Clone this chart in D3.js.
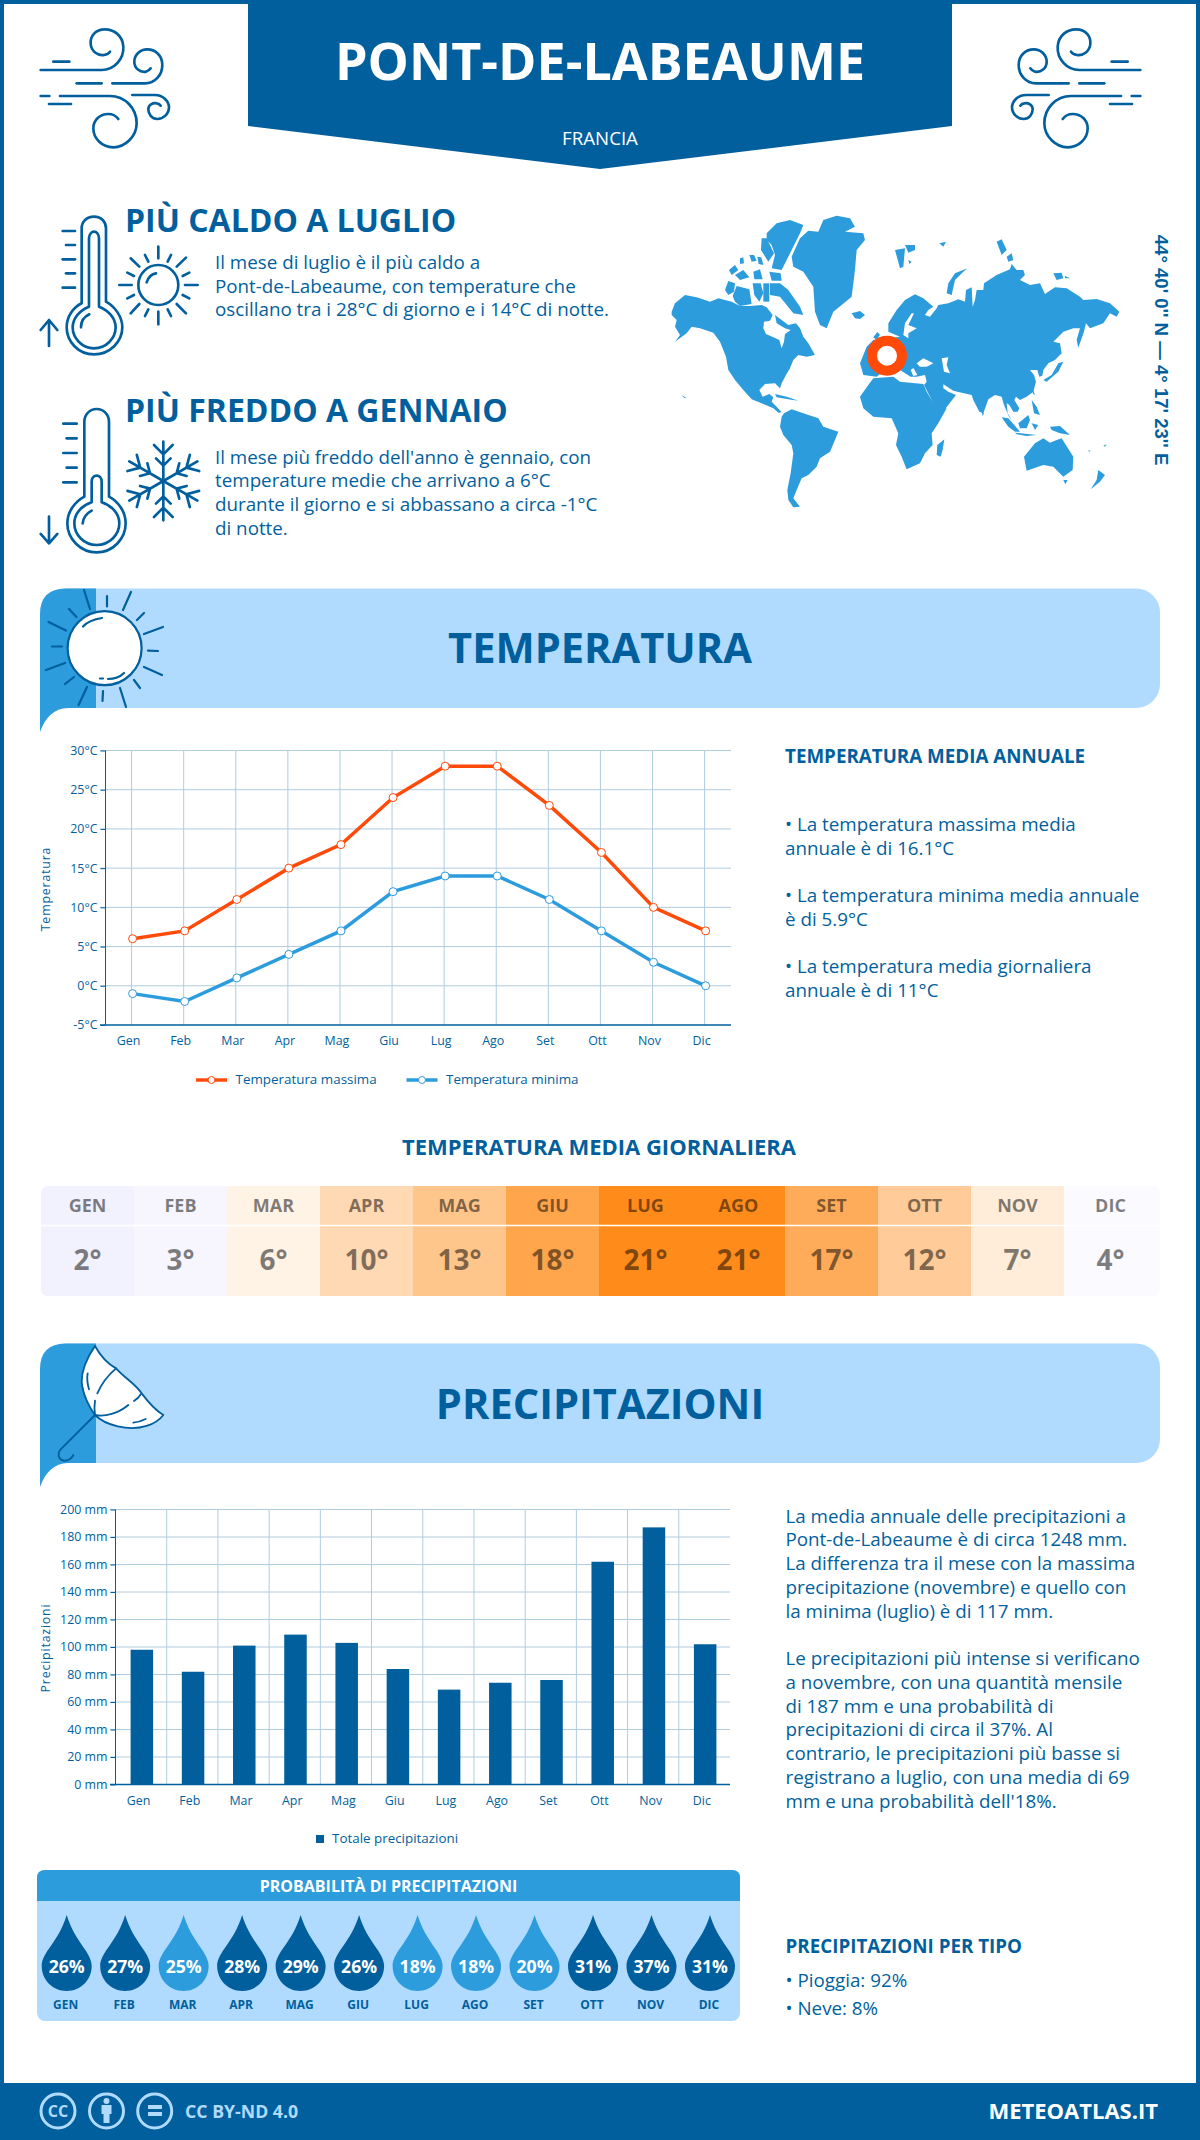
<!DOCTYPE html>
<html>
<head>
<meta charset="utf-8">
<script src="https://cdn.jsdelivr.net/npm/d3@7"></script>
<style>
  body { margin: 0; background: #fff; }
  svg { display: block; }
  text { font-family: "Open Sans", sans-serif; }
</style>
</head>
<body>
<div id="chart"></div>
<script>
// chart values
const months = ["Gen", "Feb", "Mar", "Apr", "Mag", "Giu", "Lug", "Ago", "Set", "Ott", "Nov", "Dic"];
const monthsUpper = ["GEN", "FEB", "MAR", "APR", "MAG", "GIU", "LUG", "AGO", "SET", "OTT", "NOV", "DIC"];
const tempMax = [6, 7, 11, 15, 18, 24, 28, 28, 23, 17, 10, 7];
const tempMin = [-1, -2, 1, 4, 7, 12, 14, 14, 11, 7, 3, 0];
const tempMean = [2, 3, 6, 10, 13, 18, 21, 21, 17, 12, 7, 4];
const rain = [98, 82, 101, 109, 103, 84, 69, 74, 76, 162, 187, 102];
const rainProb = [26, 27, 25, 28, 29, 26, 18, 18, 20, 31, 37, 31];
const tempTicks = [-5, 0, 5, 10, 15, 20, 25, 30];
const rainTicks = [0, 20, 40, 60, 80, 100, 120, 140, 160, 180, 200];

// texts
const hotLines = ["Il mese di luglio è il più caldo a", "Pont-de-Labeaume, con temperature che", "oscillano tra i 28°C di giorno e i 14°C di notte."];
const coldLines = ["Il mese più freddo dell'anno è gennaio, con", "temperature medie che arrivano a 6°C", "durante il giorno e si abbassano a circa -1°C", "di notte."];
const tempNotes = [
  ["• La temperatura massima media", "annuale è di 16.1°C"],
  ["• La temperatura minima media annuale", "è di 5.9°C"],
  ["• La temperatura media giornaliera", "annuale è di 11°C"]
];
const rainPara1 = ["La media annuale delle precipitazioni a", "Pont-de-Labeaume è di circa 1248 mm.", "La differenza tra il mese con la massima", "precipitazione (novembre) e quello con", "la minima (luglio) è di 117 mm."];
const rainPara2 = ["Le precipitazioni più intense si verificano", "a novembre, con una quantità mensile", "di 187 mm e una probabilità di", "precipitazioni di circa il 37%. Al", "contrario, le precipitazioni più basse si", "registrano a luglio, con una media di 69", "mm e una probabilità dell'18%."];

const navy = "#025f9d", mid = "#2d9cdd", pale = "#b0dbff", orange = "#ff4a0a", grid = "#afcce0";
const bodySize = 18.8, chartFont = 12.4, legendFont = 13.4;

const svg = d3.select("#chart").append("svg").attr("width", 1200).attr("height", 2140);

function txt(parent, x, y, s, size, o) {
  o = o || {};
  return parent.append("text").attr("x", x).attr("y", y)
    .attr("font-size", size)
    .attr("font-weight", o.w || 400)
    .attr("fill", o.fill || navy)
    .attr("text-anchor", o.a || "start")
    .attr("dy", ".35em")
    .text(s);
}
function linesAt(ys, lines, x, size) {
  lines.forEach((l, i) => txt(svg, x, ys[i], l, size));
}

// frame
svg.append("rect").attr("x", 2).attr("y", 2).attr("width", 1196).attr("height", 2136).attr("fill", "none").attr("stroke", navy).attr("stroke-width", 4);
svg.append("rect").attr("y", 2083).attr("width", 1200).attr("height", 57).attr("fill", navy);

// header
svg.append("path").attr("d", "M248,0H952V126L600,169L248,126Z").attr("fill", navy);
txt(svg, 600, 62, "PONT-DE-LABEAUME", 52, { w: 700, fill: "#fff", a: "middle" });
txt(svg, 600, 138, "FRANCIA", 18.7, { fill: "#fff", a: "middle" });

// wind icons, drawn in 3x units
const windPaths = [
  "M32,150H215C255,150 282,115 280,80C278,45 250,28 225,28C195,28 180,50 182,72C184,95 205,108 222,105C232,103 238,98 240,95",
  "M70,125H118", "M140,190H215",
  "M247,190H345C375,190 397,165 397,135C397,105 375,88 352,88C330,88 313,105 313,125C313,145 330,158 348,155C355,153 360,148 362,145",
  "M32,228H58",
  "M90,228H240C285,228 320,265 320,310C320,350 285,382 250,382C215,382 190,355 190,325C190,300 210,282 235,282C250,282 260,290 265,297",
  "M57,252H123",
  "M307,225H375C400,225 417,245 417,262C417,282 400,297 382,297C365,297 355,282 355,268C355,255 368,248 380,250C386,250 390,254 392,257"
];
function icon(transform, paths, sw) {
  const g = svg.append("g").attr("transform", transform).attr("fill", "none").attr("stroke", navy)
    .attr("stroke-width", sw || 8).attr("stroke-linecap", "round").attr("stroke-linejoin", "round");
  paths.forEach(d => g.append("path").attr("d", d));
  return g;
}
icon("translate(30,20) scale(.3333)", windPaths);
icon("translate(1151,20) scale(-.3333,.3333)", windPaths);

// hot block
icon("translate(30,200) scale(.3333)", [
  "M155,310V85C155,65 170,50 192,50C214,50 228,65 228,85V305C255,320 277,350 277,382C277,425 240,463 192,463C145,463 110,425 110,382C110,350 130,322 155,310Z",
  "M177,320V115C177,103 185,95 192,95C200,95 207,103 207,115V320C235,330 257,355 257,382C257,415 228,445 192,445C157,445 128,415 128,382C128,355 150,330 177,320Z",
  "M153,382C153,365 163,350 178,343",
  "M98,93H135", "M108,135H135", "M98,178H135", "M108,220H135", "M98,263H135",
  "M57,438V360M32,390L57,360L82,390",
  "M350,247C355,232 365,222 378,220",
  "M385,140V175", "M385,335V373", "M268,255H305", "M465,255H503",
  "M302,175L328,200", "M468,173L440,200", "M302,340L328,312", "M468,340L440,312",
  "M345,165L355,185", "M423,165L413,185", "M292,218L312,228", "M478,218L458,228",
  "M292,295L312,285", "M478,295L458,285", "M345,348L355,328", "M423,348L413,328"
]).append("circle").attr("cx", 385).attr("cy", 255).attr("r", 60);
txt(svg, 125, 221, "PIÙ CALDO A LUGLIO", 32, { w: 700 });
linesAt([262, 286, 309.5], hotLines, 215, bodySize);

// cold block
const snowArm = "M0,0V-118M-28,-108L0,-80L28,-108M-22,-68L0,-46L22,-68";
const cold = icon("translate(30,395) scale(.3333)", [
  "M163,305V80C163,58 180,42 200,42C220,42 237,58 237,80V305C265,320 287,350 287,385C287,432 248,472 200,472C152,472 112,432 112,385C112,350 135,320 163,305Z",
  "M185,322V260C185,248 192,242 200,242C208,242 215,248 215,260V322C245,332 268,355 268,385C268,420 238,450 200,450C162,450 133,420 133,385C133,355 155,332 185,322Z",
  "M158,385C160,368 170,355 185,347",
  "M100,86H140", "M110,130H140", "M100,174H140", "M110,218H140", "M100,262H140",
  "M57,365V445M32,417L57,445L82,417"
]);
d3.range(6).forEach(i => cold.append("path").attr("d", snowArm).attr("transform", `translate(400,258) rotate(${i * 60})`));
txt(svg, 125, 410.5, "PIÙ FREDDO A GENNAIO", 32, { w: 700 });
linesAt([457, 480.5, 504, 528], coldLines, 215, bodySize);

// world map outlines, traced in 3x units of the two map halves
const westShapes = [
  [[35,335],[45,310],[75,285],[110,292],[135,300],[150,305],[175,295],[215,305],[240,318],[270,318],[305,315],[320,322],[338,345],[330,362],[312,365],[310,385],[318,402],[340,412],[358,420],[365,445],[372,425],[375,402],[392,390],[375,385],[350,370],[345,345],[362,358],[385,375],[408,370],[420,385],[430,410],[445,430],[465,465],[440,470],[415,465],[400,480],[390,505],[378,525],[365,550],[360,565],[345,550],[315,552],[298,570],[308,590],[328,582],[340,592],[335,605],[350,620],[365,637],[355,638],[340,625],[310,612],[275,598],[250,570],[225,540],[205,510],[198,470],[180,425],[160,398],[120,385],[95,380],[80,400],[45,425],[60,405],[45,380],[50,360],[35,345]],
  [[365,650],[372,640],[395,628],[430,640],[475,655],[490,680],[535,695],[525,720],[510,755],[480,775],[470,800],[445,825],[425,835],[410,870],[400,895],[420,920],[400,922],[385,900],[382,870],[392,820],[400,760],[395,735],[370,705],[360,680]],
  [[395,170],[420,115],[445,92],[475,95],[490,60],[530,47],[570,55],[585,80],[555,95],[610,100],[615,120],[590,150],[585,210],[575,290],[545,315],[520,335],[500,385],[480,375],[465,335],[460,260],[430,215],[400,200]],
  [[320,100],[350,70],[390,60],[430,75],[420,100],[395,150],[365,210],[335,205],[345,165],[335,135],[320,120]],
  [[330,250],[360,250],[385,270],[420,320],[430,345],[400,340],[360,290],[330,285]],
  [[195,270],[205,243],[225,250],[222,275],[205,285]],
  [[218,288],[230,258],[268,268],[275,312],[240,318],[225,305]],
  [[278,250],[302,250],[310,280],[298,305],[283,285]],
  [[310,250],[328,250],[328,305],[310,305]],
  [[207,210],[225,195],[235,210],[215,225]],
  [[225,225],[250,210],[268,232],[240,240]],
  [[280,215],[300,208],[308,238],[283,238]],
  [[305,115],[320,115],[342,160],[325,185],[303,150]],
  [[328,215],[362,220],[365,242],[335,242]],
  [[240,175],[250,172],[252,190],[240,192]],
  [[268,165],[282,165],[290,182],[275,185]],
  [[292,170],[304,172],[310,195],[296,192]],
  [[345,582],[380,590],[415,602],[385,598],[350,592]],
  [[575,340],[600,333],[615,345],[600,357],[585,355]],
  [[65,585],[80,595],[72,593]],
  [[640,412],[652,396],[660,404],[650,420]],
  [[600,590],[625,555],[640,535],[700,530],[720,545],[790,552],[800,575],[830,625],[860,625],[835,670],[815,700],[818,735],[795,760],[780,790],[740,808],[725,770],[708,735],[715,700],[695,655],[640,650],[610,625]]
];
const eastShapes = [
  [[25,395],[25,370],[50,330],[75,300],[105,283],[130,295],[160,320],[145,330],[135,345],[150,350],[170,325],[175,315],[205,310],[235,298],[255,305],[258,270],[275,262],[278,320],[285,300],[290,270],[310,270],[312,250],[350,225],[390,208],[395,192],[410,210],[430,210],[435,225],[420,240],[450,255],[480,250],[495,282],[525,262],[560,265],[600,290],[610,300],[650,297],[690,310],[718,335],[710,350],[690,340],[670,370],[630,385],[618,370],[612,395],[595,443],[590,420],[600,385],[580,385],[550,395],[520,425],[540,430],[545,460],[525,480],[505,490],[490,510],[487,527],[478,530],[472,510],[450,510],[462,525],[468,545],[460,575],[440,590],[420,600],[408,590],[403,600],[418,625],[413,635],[400,635],[388,615],[380,610],[383,640],[395,660],[387,650],[372,615],[365,590],[345,585],[325,598],[310,640],[298,635],[280,600],[275,585],[245,578],[220,572],[190,553],[190,565],[205,575],[228,585],[195,628],[170,630],[150,590],[132,555],[140,545],[135,525],[110,530],[92,530],[60,510],[45,520],[20,505],[-10,530],[-50,525],[-60,490],[-40,440],[-20,420],[30,415],[60,410]],
  [[200,280],[205,250],[225,220],[262,205],[250,215],[225,240],[215,285]],
  [[45,150],[75,145],[70,200],[60,205]],
  [[75,135],[105,135],[105,150],[85,158]],
  [[85,180],[95,185],[88,192]],
  [[178,130],[198,125],[190,140]],
  [[350,125],[365,118],[380,150],[365,165]],
  [[380,170],[395,160],[400,180],[385,185]],
  [[520,220],[545,218],[550,235],[530,240]],
  [[555,228],[570,235],[555,235]],
  [[170,765],[172,735],[193,718],[188,750],[182,770]],
  [[305,635],[312,640],[308,648]],
  [[365,652],[385,655],[420,695],[405,695],[385,680]],
  [[405,698],[470,705],[440,708],[410,703]],
  [[415,670],[445,645],[450,660],[440,685],[420,685]],
  [[455,670],[475,675],[465,690]],
  [[455,600],[470,620],[480,645],[462,640]],
  [[460,570],[465,585],[458,580]],
  [[510,680],[540,678],[570,705],[540,700],[515,690]],
  [[432,770],[465,730],[490,715],[510,728],[530,720],[545,715],[580,770],[578,810],[550,830],[520,800],[490,795],[440,812]],
  [[550,840],[563,840],[556,853]],
  [[655,810],[675,825],[660,845],[632,868],[650,840]],
  [[490,540],[515,525],[535,490],[550,485],[535,515],[500,545]],
  [[625,750],[632,753],[627,755]],
  [[670,737],[680,733],[675,740]]
];
const seaShapes = [
  [[70,405],[75,370],[95,340],[102,340],[85,375],[110,385],[85,400],[85,415]],
  [[110,490],[130,475],[160,490],[140,500],[120,500]],
  [[185,475],[205,472],[200,495],[210,520],[192,515]],
  [[92,510],[100,504],[112,525],[100,528]]
];
const line = d3.line();
const mapW = svg.append("g").attr("transform", "translate(660,200) scale(.3333)").attr("fill", mid);
westShapes.forEach(p => mapW.append("path").attr("d", line(p) + "Z"));
const mapE = svg.append("g").attr("transform", "translate(880,200) scale(.3333)").attr("fill", mid);
eastShapes.forEach(p => mapE.append("path").attr("d", line(p) + "Z"));
seaShapes.forEach(p => mapE.append("path").attr("d", line(p) + "Z").attr("fill", "#fff"));
svg.append("circle").attr("cx", 887).attr("cy", 355.7).attr("r", 15).attr("fill", "#fff").attr("stroke", orange).attr("stroke-width", 10);

svg.append("text").attr("transform", "translate(1161.5,350) rotate(90)").attr("text-anchor", "middle").attr("dy", ".35em")
  .style("font-family", "'Liberation Sans', sans-serif").attr("font-weight", 700).attr("font-size", 18.6).attr("fill", navy)
  .text("44° 40' 0'' N — 4° 17' 23'' E");

// section bands
function band(y0, title, ty0) {
  const y1 = y0 + 119.5;
  svg.append("rect").attr("x", 40).attr("y", y0).attr("width", 1120).attr("height", y1 - y0).attr("rx", 24).attr("fill", pale);
  svg.append("path").attr("fill", mid)
    .attr("d", `M96,${y0}V${y1}H68C54,${y1} 45,${y1 + 10} 40,${y1 + 24}V${y0 + 26}Q40,${y0} 66,${y0}Z`);
  txt(svg, 600, ty0, title, 41.6, { w: 700, a: "middle" });
}
band(588.5, "TEMPERATURA", 648);
band(1343.5, "PRECIPITAZIONI", 1404.5);

// big sun in the band
const bigSun = svg.append("g").attr("fill", "none").attr("stroke", navy).attr("stroke-width", 2.2).attr("stroke-linecap", "round");
bigSun.append("circle").attr("cx", 104.6).attr("cy", 648.2).attr("r", 37).attr("fill", "#fff");
["M84,590L90,609", "M107,596V606.5", "M131,592L123,610", "M144,613L137,620", "M163,627L144,634", "M148,650.6L158,651",
 "M144,667L162,675", "M134,680L140,688", "M120,688L126,707", "M103,691L102.5,701", "M87,687L78.6,705", "M74,677L65,684",
 "M65,663L46,670", "M52,646.5H62", "M66,630.6L48.5,622", "M76.5,617L69,609",
 "M83,626.5C88,621 95,619 102,618", "M100,678.5H103", "M108,679C114,679 120,677 124,673"
].forEach(d => bigSun.append("path").attr("d", d));

// umbrella in the band
const umbrella = icon("translate(40,1340) scale(.3333)", [], 5.5);
umbrella.append("path").attr("fill", "#fff").attr("d", "M165,18C150,40 125,80 125,125C128,165 150,205 165,225C195,255 265,275 320,258C345,250 360,238 370,225C345,210 320,180 305,160C285,130 255,115 228,85C200,70 180,45 165,18Z");
["M228,85C205,105 185,130 172,160", "M165,182C163,195 163,210 165,225", "M165,225C195,232 235,220 265,195",
 "M282,183C290,178 297,172 303,162", "M143,100C140,115 142,130 147,148", "M280,248C295,247 305,243 317,237",
 "M165,225L62,328C48,345 60,365 78,362C88,360 95,355 100,345"
].forEach(d => umbrella.append("path").attr("d", d));

// temperature chart
const tx = d3.scalePoint().domain(months).range([131.6, 704.6]);
const ty = d3.scaleLinear().domain([-5, 30]).range([1025, 750.5]);
const tempChart = svg.append("g");
tempChart.append("g").selectAll("line").data(tempTicks.slice(1)).join("line")
  .attr("x1", 100).attr("x2", 731).attr("y1", d => ty(d)).attr("y2", d => ty(d)).attr("stroke", grid);
tempChart.append("g").selectAll("line").data(months).join("line")
  .attr("x1", d => tx(d)).attr("x2", d => tx(d)).attr("y1", 750.5).attr("y2", 1025).attr("stroke", grid);
tempChart.append("g").attr("transform", "translate(105.5,0)")
  .call(d3.axisLeft(ty).tickValues(tempTicks).tickSize(5).tickFormat(d => d + "°C"))
  .call(g => g.select(".domain").attr("stroke", navy).attr("d", "M0,750.5V1025"))
  .call(g => g.selectAll(".tick line").attr("stroke", navy))
  .call(g => g.selectAll("text").attr("fill", navy).attr("font-size", chartFont).style("font-family", "'Open Sans'"));
tempChart.append("line").attr("x1", 100).attr("x2", 731).attr("y1", 1025).attr("y2", 1025).attr("stroke", navy).attr("stroke-width", 1.5);
months.forEach(m => txt(tempChart, tx(m) - 3, 1041, m, chartFont, { a: "middle" }));
tempChart.append("text").attr("transform", "translate(46,889) rotate(-90)").attr("text-anchor", "middle").attr("dy", ".35em")
  .attr("font-size", 12.4).attr("letter-spacing", .8).attr("fill", navy).text("Temperatura");

function tempSeries(values, color) {
  const l = d3.line().x((d, i) => tx(months[i]) + 1).y(d => ty(d));
  tempChart.append("path").attr("d", l(values)).attr("fill", "none").attr("stroke", color).attr("stroke-width", 3.5);
  tempChart.append("g").selectAll("circle").data(values).join("circle")
    .attr("cx", (d, i) => tx(months[i]) + 1).attr("cy", d => ty(d)).attr("r", 4)
    .attr("fill", "#fff").attr("stroke", color).attr("stroke-width", 1);
}
tempSeries(tempMax, orange);
tempSeries(tempMin, mid);

function tempLegend(x, color, label) {
  const g = svg.append("g");
  g.append("line").attr("x1", x).attr("x2", x + 31).attr("y1", 1080).attr("y2", 1080).attr("stroke", color).attr("stroke-width", 3.5);
  g.append("circle").attr("cx", x + 15.5).attr("cy", 1080).attr("r", 3.5).attr("fill", "#fff").attr("stroke", color);
  txt(g, x + 39.5, 1079.5, label, legendFont);
}
tempLegend(196, orange, "Temperatura massima");
tempLegend(406.5, mid, "Temperatura minima");

txt(svg, 785, 756.5, "TEMPERATURA MEDIA ANNUALE", bodySize, { w: 700 });
const noteYs = [[824.5, 848], [895.5, 919], [966.5, 990]];
tempNotes.forEach((n, i) => linesAt(noteYs[i], n, 785, bodySize));

// daily mean strip
txt(svg, 599, 1147, "TEMPERATURA MEDIA GIORNALIERA", 22, { w: 700, a: "middle" });
const heat = d3.scaleLinear().domain([2, 4, 6, 10, 13, 18, 21])
  .range(["#f2f2ff", "#fbfaff", "#fff3e6", "#ffd9b3", "#ffc68c", "#ffa64d", "#ff8c1a"]);
const hx = d3.scaleBand().domain(months).range([41, 1157]);
const strip = svg.append("g");
strip.append("clipPath").attr("id", "stripClip").append("rect").attr("x", 41).attr("y", 1186).attr("width", 1119).attr("height", 110).attr("rx", 7);
const cells = strip.append("g").attr("clip-path", "url(#stripClip)");
cells.selectAll("rect").data(tempMean).join("rect")
  .attr("x", (d, i) => hx(months[i])).attr("y", 1186).attr("width", hx.bandwidth() + 3).attr("height", 110)
  .attr("fill", d => heat(d));
strip.append("line").attr("x1", 41).attr("x2", 1160).attr("y1", 1225.5).attr("y2", 1225.5).attr("stroke", "#fff").attr("stroke-width", 1.5);
tempMean.forEach((d, i) => {
  const cx = hx(months[i]) + hx.bandwidth() / 2;
  txt(strip, cx, 1205.5, monthsUpper[i], 18, { w: 700, fill: "#000", a: "middle" }).attr("fill-opacity", .5);
  txt(strip, cx, 1260.5, d + "°", 28, { w: 700, fill: "#000", a: "middle" }).attr("fill-opacity", .5);
});

// precipitation chart
const rx = d3.scaleBand().domain(months).range([115.5, 730]);
const ry = d3.scaleLinear().domain([0, 200]).range([1784.5, 1509.5]);
const rainChart = svg.append("g");
rainChart.append("g").selectAll("line").data(rainTicks.slice(1)).join("line")
  .attr("x1", 110).attr("x2", 730).attr("y1", d => ry(d)).attr("y2", d => ry(d)).attr("stroke", grid);
rainChart.append("g").selectAll("line").data(months.slice(1)).join("line")
  .attr("x1", d => rx(d)).attr("x2", d => rx(d)).attr("y1", 1509.5).attr("y2", 1784.5).attr("stroke", grid);
rainChart.append("g").attr("transform", "translate(115.5,0)")
  .call(d3.axisLeft(ry).tickValues(rainTicks).tickSize(5).tickFormat(d => d + " mm"))
  .call(g => g.select(".domain").attr("stroke", navy).attr("d", "M0,1509.5V1784.5"))
  .call(g => g.selectAll(".tick line").attr("stroke", navy))
  .call(g => g.selectAll("text").attr("fill", navy).attr("font-size", chartFont).style("font-family", "'Open Sans'"));
rainChart.append("g").selectAll("rect").data(rain).join("rect")
  .attr("x", (d, i) => rx(months[i]) + rx.bandwidth() / 2 - 10.5).attr("width", 22.5)
  .attr("y", d => ry(d)).attr("height", d => ry(0) - ry(d)).attr("fill", navy);
rainChart.append("line").attr("x1", 110).attr("x2", 730).attr("y1", 1784.5).attr("y2", 1784.5).attr("stroke", navy).attr("stroke-width", 1.5);
months.forEach(m => txt(rainChart, rx(m) + rx.bandwidth() / 2 - 2.5, 1800.5, m, chartFont, { a: "middle" }));
rainChart.append("text").attr("transform", "translate(46,1648) rotate(-90)").attr("text-anchor", "middle").attr("dy", ".35em")
  .attr("font-size", 12.4).attr("letter-spacing", .8).attr("fill", navy).text("Precipitazioni");
svg.append("rect").attr("x", 316).attr("y", 1835).attr("width", 8).attr("height", 8).attr("fill", navy);
txt(svg, 332, 1838.5, "Totale precipitazioni", legendFont);

linesAt([1516, 1539.5, 1563, 1587, 1611], rainPara1, 785.5, bodySize);
linesAt([1658, 1682, 1706, 1729.5, 1753, 1777, 1801], rainPara2, 785.5, bodySize);
txt(svg, 785.5, 1946, "PRECIPITAZIONI PER TIPO", bodySize, { w: 700 });
txt(svg, 785.5, 1980, "• Pioggia: 92%", bodySize);
txt(svg, 785.5, 2008.5, "• Neve: 8%", bodySize);

// rain probability panel
svg.append("rect").attr("x", 37).attr("y", 1870).attr("width", 703).attr("height", 151).attr("rx", 8).attr("fill", pale);
svg.append("path").attr("d", "M37,1901V1878Q37,1870 45,1870H732Q740,1870 740,1878V1901Z").attr("fill", mid);
txt(svg, 388.5, 1886.5, "PROBABILITÀ DI PRECIPITAZIONI", 16, { w: 700, fill: "#fff", a: "middle" });
const px = d3.scalePoint().domain(months).range([66.7, 710]);
const drop = cx => `M${cx},1915C${cx + 8},1942 ${cx + 25},1952 ${cx + 25},1966C${cx + 25},1980 ${cx + 14},1991 ${cx},1991C${cx - 14},1991 ${cx - 25},1980 ${cx - 25},1966C${cx - 25},1952 ${cx - 8},1942 ${cx},1915Z`;
svg.append("g").selectAll("path").data(rainProb).join("path")
  .attr("d", (d, i) => drop(px(months[i])))
  .attr("fill", d => d > 25 ? navy : mid);
rainProb.forEach((d, i) => {
  txt(svg, px(months[i]), 1966.5, d + "%", 17.6, { w: 700, fill: "#fff", a: "middle" });
  txt(svg, px(months[i]) - 1, 2004.5, monthsUpper[i], 12, { w: 700, a: "middle" });
});

// footer
const lic = svg.append("g").attr("fill", "none").attr("stroke", pale).attr("stroke-width", 3);
[58, 106.5, 154.7].forEach(cx => lic.append("circle").attr("cx", cx).attr("cy", 2111).attr("r", 17));
txt(svg, 58, 2111, "CC", 16, { w: 700, fill: pale, a: "middle" });
svg.append("circle").attr("cx", 106.5).attr("cy", 2101).attr("r", 3).attr("fill", pale);
svg.append("path").attr("d", "M101.5,2105H111.5V2114H109.5V2123H103.5V2114H101.5Z").attr("fill", pale);
svg.append("rect").attr("x", 148).attr("y", 2105).attr("width", 14).attr("height", 4).attr("fill", pale);
svg.append("rect").attr("x", 148).attr("y", 2112).attr("width", 14).attr("height", 4).attr("fill", pale);
txt(svg, 185, 2112, "CC BY-ND 4.0", 17.7, { w: 700, fill: pale });
txt(svg, 1158, 2111, "METEOATLAS.IT", 22, { w: 700, fill: "#fff", a: "end" });
</script>
</body>
</html>
